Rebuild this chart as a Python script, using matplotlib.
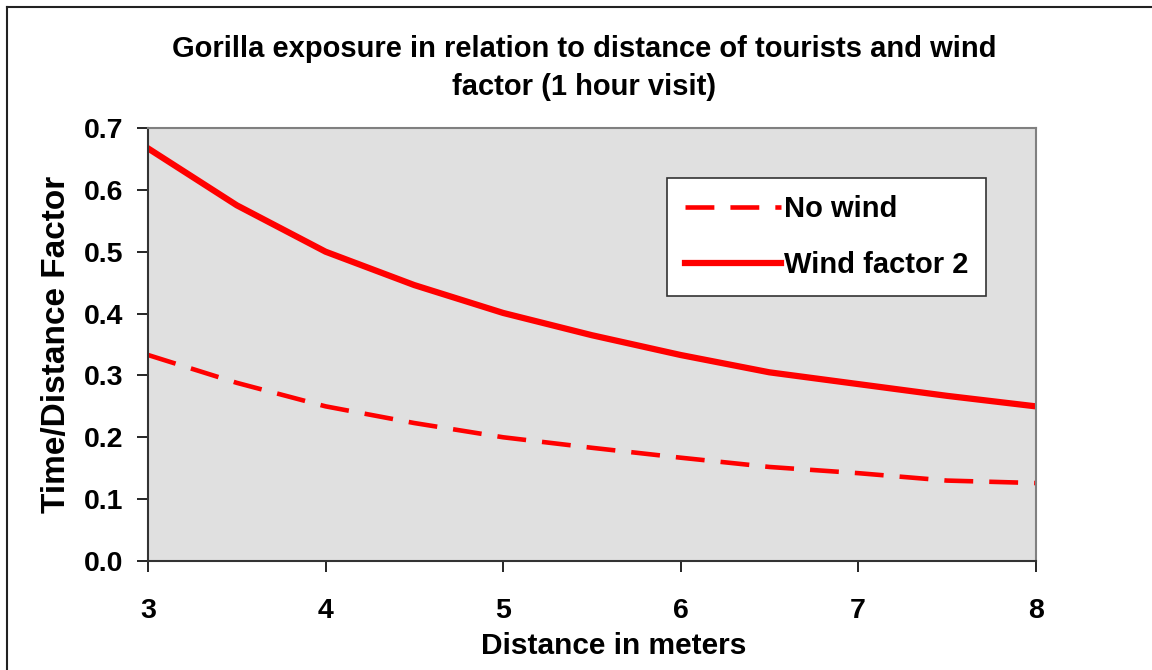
import matplotlib.pyplot as plt
from matplotlib.lines import Line2D

plt.rcParams["font.family"] = ["Liberation Sans", "DejaVu Sans"]
plt.rcParams["font.weight"] = "bold"

# distances in meters
distance = [3, 3.5, 4, 4.5, 5, 5.5, 6, 6.5, 7, 7.5, 8]
# time/distance factor
no_wind = [0.333, 0.288, 0.250, 0.223, 0.200, 0.183, 0.167, 0.152, 0.142, 0.130, 0.126]
wind_factor_2 = [0.667, 0.575, 0.500, 0.446, 0.401, 0.365, 0.333, 0.305, 0.286, 0.267, 0.250]

fig = plt.figure(figsize=(11.52, 6.70), dpi=100)
ax = fig.add_axes([0.1285, 0.1627, 0.7705, 0.6463])
ax.set_facecolor("#e0e0e0")

ax.plot(distance, no_wind, color="#ff0000", lw=3.3, dashes=(6.3, 3.5), label="No wind")
ax.plot(distance, wind_factor_2, color="#ff0000", lw=4.5, label="Wind factor 2")

ax.set_xlim(3, 8)
ax.set_ylim(0, 0.7)
ax.set_xticks([3, 4, 5, 6, 7, 8])
ax.set_yticks([0.0, 0.1, 0.2, 0.3, 0.4, 0.5, 0.6, 0.7])
ax.set_yticklabels([f"{v:.1f}" for v in ax.get_yticks()])
ax.tick_params(axis="both", labelsize=20.5, direction="out", length=8, width=1.2, colors="black")
ax.tick_params(axis="x", pad=19)
ax.tick_params(axis="y", pad=10)

for side in ["top", "right"]:
    ax.spines[side].set_color("#808080")
    ax.spines[side].set_linewidth(1.5)
for side in ["left", "bottom"]:
    ax.spines[side].set_color("#333333")
    ax.spines[side].set_linewidth(1.5)

ax.set_xlabel("Distance in meters", fontsize=21.5, fontweight="bold")
ax.xaxis.set_label_coords(0.525, -0.163)
ax.set_ylabel("Time/Distance Factor", fontsize=24, fontweight="bold", labelpad=8)
fig.text(0.507, 0.899, "Gorilla exposure in relation to distance of tourists and wind\nfactor (1 hour visit)",
         ha="center", va="center", fontsize=21, fontweight="bold", linespacing=1.45)

leg = ax.legend(loc="upper right", bbox_to_anchor=(0.944, 0.885), fontsize=21, frameon=True,
                fancybox=False, handlelength=3.3, handletextpad=0.1, borderpad=0.6,
                labelspacing=0.95, borderaxespad=0)
leg.get_frame().set_edgecolor("#333333")
leg.get_frame().set_linewidth(1.2)
leg.get_frame().set_facecolor("white")
leg.get_frame().set_alpha(1)

# outer frame: top and left edges only visible
fig.add_artist(Line2D([0.0065, 1.0], [0.99, 0.99], transform=fig.transFigure, color="#222222", lw=1.5))
fig.add_artist(Line2D([0.0065, 0.0065], [0.0, 0.99], transform=fig.transFigure, color="#222222", lw=1.5))

fig.savefig("out.png", dpi=100)
